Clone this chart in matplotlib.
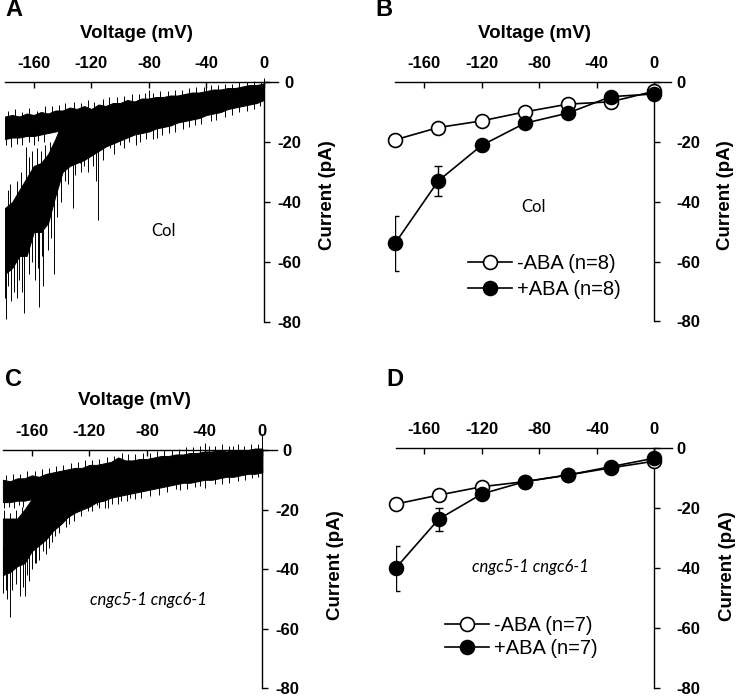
import matplotlib
matplotlib.use('Agg')
import matplotlib.pyplot as plt
import numpy as np

plt.rcParams['font.family'] = ['Liberation Sans', 'DejaVu Sans']
plt.rcParams['axes.unicode_minus'] = False

W, H = 737, 699

# ramp recordings (A, C): envelopes read every 5 mV
ramp_v = [-180, -175, -170, -165, -160, -155, -150, -145, -140, -135, -130, -125,
          -120, -115, -110, -105, -100, -95, -90, -85, -80, -75, -70, -65, -60,
          -55, -50, -45, -40, -35, -30, -25, -20, -15, -10, -5, 0]

# panel A, Col
ctl_top_a = [-11.5, -11, -11.5, -10.5, -11, -10, -10.5, -9.5, -9.5, -8.5, -9, -8,
             -9, -7.5, -8, -7, -7, -6, -6.5, -5.5, -5.5, -5, -5, -4.5, -4.5,
             -4, -3.5, -3.5, -3, -2.5, -2.5, -2, -2, -1.5, -1, -1, -0.5]
ctl_bot_a = [-19, -18.5, -18.5, -18, -18, -17.5, -17, -16.5, -16, -16, -15.5, -15,
             -15, -14.5, -14, -14, -13.5, -13, -13, -12.5, -12, -11.5, -11.5, -11, -10.5,
             -10, -10, -9.5, -9, -8.5, -8, -7.5, -7, -6.5, -6, -5.5, -5]
aba_top_a = [-42, -40, -36, -32, -28, -27, -24, -19, -13, -14, -15, -15,
             -15, -14.5, -14, -14, -13.5, -13, -13, -12.5, -12, -11.5, -11.5, -11, -10.5,
             -10, -10, -9.5, -9, -8.5, -8, -7.5, -7, -6.5, -6, -5.5, -5]
aba_bot_a = [-64, -62, -58, -58, -50, -50, -47, -38, -30, -28, -27, -26,
             -24.5, -23, -21.5, -20.5, -19.5, -18.5, -17.5, -17, -16.5, -15.5, -15, -14.5, -13.5,
             -13, -12.5, -12, -11, -10.5, -10, -9, -8.5, -8, -7.5, -7, -6]
# spikes of the +ABA sweep (drawn from the middle of its band)
spike_v_a = [-180, -179, -178, -176, -174, -172, -170, -168, -167, -163, -161, -159,
             -157, -156.5, -154, -153.5, -150, -148, -146, -144, -141,
             -178, -176.5, -172, -169, -165.6, -163, -161, -158, -155, -152, -149,
             -138, -136, -133, -131, -128, -127, -125, -122, -119, -116.4, -115.3,
             -112, -107, -104, -100, -97, -94, -89, -86, -82, -77, -74, -71, -66,
             -62, -56, -52, -48, -44, -37, -33, -27, -22, -17, -12, -7, -3]
spike_i_a = [-72, -79, -68, -73, -70, -72, -66, -70, -77, -64, -60, -66,
             -62, -75, -58, -68, -56, -52, -64, -45, -40,
             -36, -34, -33, -30, -21.6, -25, -23, -22, -23, -21, -20,
             -33, -34, -42, -31, -27, -30, -28, -30, -28, -33, -46,
             -26, -22, -24, -21, -22, -20, -21, -20, -19, -19, -18.5, -17.7, -17,
             -16.5, -15.5, -15, -14.3, -14, -13, -12.5, -11.5, -11, -10, -9.5, -9, -8]
# noise on the -ABA sweep (drawn from the middle of its band)
hair_v_a = [-178, -173, -168.5, -163, -158, -152, -147, -142.5, -138, -132, -127,
            -122.5, -118, -112, -108, -102, -97, -92, -87, -83, -80, -77, -72, -67,
            -62, -57, -52, -47, -42, -40, -37, -32, -27, -22, -17, -12, -7, -2, 0,
            -179, -176, -172, -168, -163, -160, -157, -153]
hair_i_a = [-9.5, -9, -10, -8.5, -9.5, -8, -8, -7.5, -7, -6.5, -7,
            -6, -6.5, -5.5, -5, -5, -4.5, -4, -4, -3.5, -2.7, -3.5, -3, -3,
            -2.5, -2.5, -2, -1.5, -1.5, -1, -1, -1, -0.5, -0.5, 0, 0, 0.5, 0, 1.5,
            -21, -21.5, -20.5, -21, -20, -21, -19.5, -20]

# panel C, cngc5-1 cngc6-1
ctl_top_c = [-10, -10.5, -9.5, -9.5, -8.5, -9, -8, -7.5, -7, -6.5, -6, -6,
             -5, -5, -4.5, -4, -2.5, -3.5, -3.5, -3, -3, -2.5, -2, -2, -1.5,
             -1.5, -1, -1, -0.5, -0.5, 0, -0.5, 0, 0, 0, 0.5, 0.5]
ctl_bot_c = [-17.5, -17.5, -17, -17, -16.5, -16, -16, -15.5, -15, -15, -14.5, -14,
             -14, -13.5, -13, -13, -12.5, -12, -12, -11.5, -11.5, -11, -11, -10.5, -10,
             -10, -9.5, -9.5, -9, -9, -8.5, -8.5, -8, -8, -7.5, -7.5, -7]
aba_top_c = [-23, -23, -23, -20, -16.5, -16, -16, -15.5, -15, -15, -14.5, -14,
             -14, -13.5, -13, -13, -12.5, -12, -12, -11.5, -11.5, -11, -11, -10.5, -10,
             -10, -9.5, -9.5, -9, -9, -8.5, -8.5, -8, -8, -7.5, -7.5, -7]
aba_bot_c = [-42, -41, -39, -38, -34, -32, -30, -27, -25, -22.5, -21, -20,
             -19, -17.5, -17, -16, -15.5, -15, -14.5, -14, -13.5, -13, -12.5, -12, -11.5,
             -11, -11, -10.5, -10, -10, -9.5, -9, -9, -8.5, -8, -8, -7.5]
spike_v_c = [-180, -178, -177, -175, -174, -171, -168, -166, -165, -163, -162, -160,
             -158, -157, -155, -152, -150, -148, -146, -143.5,
             -179, -175, -171, -167,
             -141, -136, -134, -131, -126, -121, -118, -115, -113, -109, -107,
             -104, -100, -98, -94, -92, -88, -84, -78, -72, -66, -60, -57, -52,
             -47, -43, -40, -33, -28, -23, -17, -12, -7, -3]
spike_i_c = [-48, -47, -50, -56, -47, -45, -49, -46, -49, -42, -44, -40,
             -38, -38, -37, -34, -35, -33, -31, -29,
             -20, -21, -20, -19,
             -28, -26, -25, -24, -22, -20.6, -20.5, -18.3, -19.5, -19.4, -19.4,
             -18, -18, -17, -17, -16, -16.5, -16, -15.5, -15, -14, -13, -13.5, -13,
             -12.5, -12, -12.8, -11.5, -11.5, -11, -10.5, -10, -9.5, -9]
hair_v_c = [-178, -173, -168, -163, -158, -153, -148, -143, -138, -133, -128,
            -123, -118, -113, -108, -103, -97.6, -93, -88, -83, -78, -73, -68, -63,
            -58, -53, -48, -43, -40, -37, -33, -28, -23, -20, -17, -13, -8, -3, 0,
            -179, -176, -172, -169, -166]
hair_i_c = [-8.5, -8, -8, -7, -7, -6.5, -6, -5.5, -5, -4.5, -4,
            -3.5, -3.5, -3, -2.5, -2, -1, -1.5, -1.5, -1, -1, -0.5, 0, 0,
            0.5, 1, 1, 1.5, 2.3, 1.5, 1.5, 2, 1.5, 1.5, 2, 1.5, 2, 2, 5,
            -19.5, -19, -19.5, -18.5, -19]

# I-V summaries (B, D)
step_v = [-180, -150, -120, -90, -60, -30, 0]
col_ctl = [-19.3, -15.2, -13, -10, -7.4, -6.6, -3.1]
col_ctl_err = [1.2, 1.0, 0.9, 0.8, 0.6, 0.5, 0.5]
col_aba = [-53.8, -33, -21.2, -13.8, -10.4, -4.9, -4]
col_aba_err = [9.2, 5.1, 1.8, 1.2, 1.0, 0.6, 0.5]
mut_ctl = [-18.6, -15.6, -12.8, -11.1, -8.9, -6.5, -4.3]
mut_ctl_err = [1.2, 1.0, 0.9, 0.8, 0.6, 0.5, 0.4]
mut_aba = [-40, -23.6, -15.2, -11.1, -8.9, -6.1, -3.3]
mut_aba_err = [7.5, 3.8, 1.5, 1.0, 0.8, 0.6, 0.5]

x_ticks = [-160, -120, -80, -40, 0]
y_ticks = [0, -20, -40, -60, -80]


def px_axes(fig, x0, x1, y0, y1):
    return fig.add_axes([x0 / W, 1 - y1 / H, (x1 - x0) / W, (y1 - y0) / H])


def setup_axes(ax, xmax, left_panel):
    ax.set_xlim(-180, xmax)
    ax.set_ylim(-80, 0)
    ax.patch.set_visible(False)
    ax.spines['left'].set_visible(False)
    ax.spines['bottom'].set_visible(False)
    ax.spines['right'].set_position(('data', 0))
    for s in ['top', 'right']:
        ax.spines[s].set_linewidth(1.0)
    ax.xaxis.tick_top()
    ax.yaxis.tick_right()
    ax.set_xticks(x_ticks)
    ax.set_yticks(y_ticks)
    ax.tick_params(axis='x', direction='in', length=4, width=1, pad=8, labelsize=12)
    if left_panel:
        ax.tick_params(axis='y', direction='out', length=4, width=1, pad=14, labelsize=12)
        for lab in ax.get_yticklabels():
            lab.set_ha('center')
    else:
        ax.tick_params(axis='y', direction='out', length=4, width=1, pad=12, labelsize=12)
    for lab in ax.get_xticklabels() + ax.get_yticklabels():
        lab.set_fontweight('bold')


def trace_panel(ax, ctl_top, ctl_bot, aba_top, aba_bot, spike_v, spike_i, hair_v, hair_i):
    ax.fill_between(ramp_v, ctl_top, ctl_bot, color='k', lw=0.7, clip_on=False)
    ax.fill_between(ramp_v, aba_top, aba_bot, color='k', lw=0.7, clip_on=False)
    aba_mid = (np.array(aba_top) + np.array(aba_bot)) / 2
    ctl_mid = (np.array(ctl_top) + np.array(ctl_bot)) / 2
    ax.vlines(spike_v, spike_i, np.interp(spike_v, ramp_v, aba_mid),
              color='k', lw=0.7, clip_on=False)
    ax.vlines(hair_v, hair_i, np.interp(hair_v, ramp_v, ctl_mid),
              color='k', lw=0.7, clip_on=False)


def iv_panel(ax, ctl, ctl_err, aba, aba_err, n, leg_xy, spacing):
    ax.errorbar(step_v, ctl, yerr=ctl_err, fmt='none', ecolor='k', elinewidth=1,
                capsize=3, capthick=1, zorder=2)
    l1, = ax.plot(step_v, ctl, 'o-', color='k', mfc='white', mec='k', ms=10,
                  mew=1.2, lw=1.2, zorder=3, clip_on=False, label='-ABA (n=%d)' % n)
    ax.errorbar(step_v, aba, yerr=aba_err, fmt='none', ecolor='k', elinewidth=1,
                capsize=3, capthick=1, zorder=4)
    l2, = ax.plot(step_v, aba, 'o-', color='k', mfc='k', mec='k', ms=10,
                  mew=1.2, lw=1.2, zorder=5, clip_on=False, label='+ABA (n=%d)' % n)
    ax.legend(handles=[l1, l2], loc='upper left',
              bbox_to_anchor=(leg_xy[0] / W, 1 - leg_xy[1] / H),
              bbox_transform=ax.figure.transFigure, frameon=False, borderpad=0,
              borderaxespad=0, handlelength=2.2, handletextpad=0.25,
              labelspacing=spacing, fontsize=14.5)


def ftext(fig, x, y, s, **kw):
    fig.text(x / W, 1 - y / H, s, **kw)


fig = plt.figure(figsize=(W / 100, H / 100), dpi=100)

ax_a = px_axes(fig, 5, 278.3, 82, 322)
setup_axes(ax_a, 10, True)
trace_panel(ax_a, ctl_top_a, ctl_bot_a, aba_top_a, aba_bot_a,
            spike_v_a, spike_i_a, hair_v_a, hair_i_a)

ax_b = px_axes(fig, 395.25, 671.25, 82, 321.5)
setup_axes(ax_b, 12, False)
iv_panel(ax_b, col_ctl, col_ctl_err, col_aba, col_aba_err, 8, (468, 254), 0.35)

ax_c = px_axes(fig, 2.9, 276.7, 450, 688.3)
setup_axes(ax_c, 10, True)
trace_panel(ax_c, ctl_top_c, ctl_bot_c, aba_top_c, aba_bot_c,
            spike_v_c, spike_i_c, hair_v_c, hair_i_c)

ax_d = px_axes(fig, 395.6, 671.6, 448.3, 688.3)
setup_axes(ax_d, 12, False)
iv_panel(ax_d, mut_ctl, mut_ctl_err, mut_aba, mut_aba_err, 7, (445, 616), 0.2)

bold = dict(fontweight='bold', fontsize=13.5, ha='center', va='center')
for x, y, s in [(14, 10, 'A'), (384, 10, 'B'), (13, 380, 'C'), (395, 380, 'D')]:
    ftext(fig, x, y, s, fontweight='bold', fontsize=17, ha='center', va='center')
for x, y in [(136, 33), (534, 33), (134.5, 400)]:
    ftext(fig, x, y, 'Voltage (mV)', **bold)
for x, y in [(328, 195), (726, 195), (335, 565), (728, 566)]:
    ftext(fig, x, y, 'Current (pA)', rotation=90, **bold)

note = dict(family=['Lato', 'DejaVu Sans'], fontsize=12, ha='center', va='center')
ftext(fig, 163, 231, 'Col', **note)
ftext(fig, 534, 207, 'Col', **note)
ftext(fig, 148, 600, 'cngc5-1 cngc6-1', style='italic', **note)
ftext(fig, 530, 567, 'cngc5-1 cngc6-1', style='italic', **note)

fig.savefig('out.png', dpi=100)
